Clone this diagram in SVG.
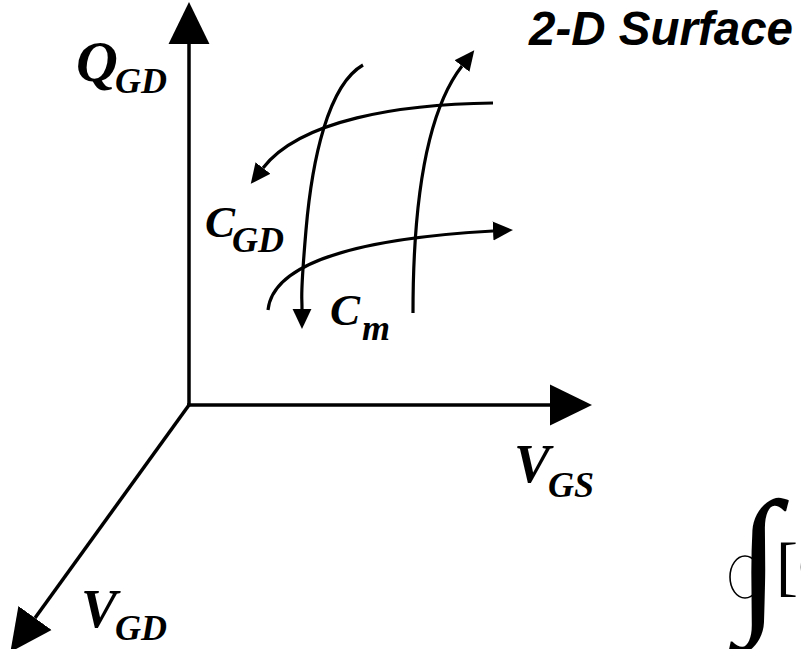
<svg xmlns="http://www.w3.org/2000/svg" width="801" height="649" viewBox="0 0 801 649">
<style>
  .ax { stroke: #000; stroke-width: 3.5; fill: none; }
  .cv { stroke: #000; stroke-width: 3.2; fill: none; }
  .lbl { font-family: "Liberation Serif", "Times New Roman", serif; font-weight: bold; font-style: italic; fill: #000; }
  .big { font-size: 54px; }
  .mid { font-size: 45px; }
  .sub { font-size: 36px; }
  .title { font-family: "Liberation Sans", Arial, sans-serif; font-weight: bold; font-style: italic; font-size: 47.5px; fill: #000; }
  .math { font-family: "Liberation Serif", "Times New Roman", serif; fill: #000; }
</style>
<defs>
  <marker id="ah" markerUnits="userSpaceOnUse" markerWidth="20" markerHeight="20" refX="0" refY="8" orient="auto" viewBox="0 0 17 16">
    <polygon points="0,0 17,8 0,16" fill="#000"/>
  </marker>
  <marker id="axh" markerUnits="userSpaceOnUse" markerWidth="42" markerHeight="42" refX="0" refY="19" orient="auto" viewBox="0 0 39 38">
    <polygon points="0,0 39,19 0,38" fill="#000"/>
  </marker>
</defs>
<g id="connectors">
  <path id="axis-q" class="ax" d="M189,405 L189,44" marker-end="url(#axh)"/>
  <path id="axis-vgs" class="ax" d="M187,405 L550,405" marker-end="url(#axh)"/>
  <path id="axis-vgd" class="ax" d="M189,405 L35,618" marker-end="url(#axh)"/>
  <path id="curve-a" class="cv" d="M363,65 C328,85 312,160 306,230 S302,290 302,309" marker-end="url(#ah)"/>
  <path id="curve-b" class="cv" d="M413,313 C413,230 420,120 462,66" marker-end="url(#ah)"/>
  <path id="curve-c" class="cv" d="M493,103 C400,104 300,120 263,168" marker-end="url(#ah)"/>
  <path id="curve-d" class="cv" d="M268,310 C272,272 330,240 493,231" marker-end="url(#ah)"/>
</g>
<g id="title">
  <text class="title" x="529" y="45">2-D Surface</text>
</g>
<g id="label-qgd">
  <text class="lbl"><tspan font-size="58" x="76" y="81">Q</tspan><tspan class="sub" x="115" y="93">GD</tspan></text>
</g>
<g id="label-cgd">
  <text class="lbl"><tspan class="mid" x="205" y="237">C</tspan><tspan class="sub" x="232" y="252">GD</tspan></text>
</g>
<g id="label-cm">
  <text class="lbl"><tspan class="mid" x="330" y="325">C</tspan><tspan class="sub" x="362" y="340">m</tspan></text>
</g>
<g id="label-vgs">
  <text class="lbl"><tspan class="big" x="514" y="482">V</tspan><tspan class="sub" x="548" y="497">GS</tspan></text>
</g>
<g id="label-vgd">
  <text class="lbl"><tspan class="big" x="81" y="627">V</tspan><tspan class="sub" x="115" y="640">GD</tspan></text>
</g>
<g id="integral">
  <ellipse cx="745" cy="577" rx="15" ry="21" fill="none" stroke="#000" stroke-width="1.6"/>
  <text class="math" x="737" y="612" font-size="160" font-weight="bold">∫</text>
  <text class="math" x="776" y="588" font-size="66">[C</text>
</g>
</svg>
